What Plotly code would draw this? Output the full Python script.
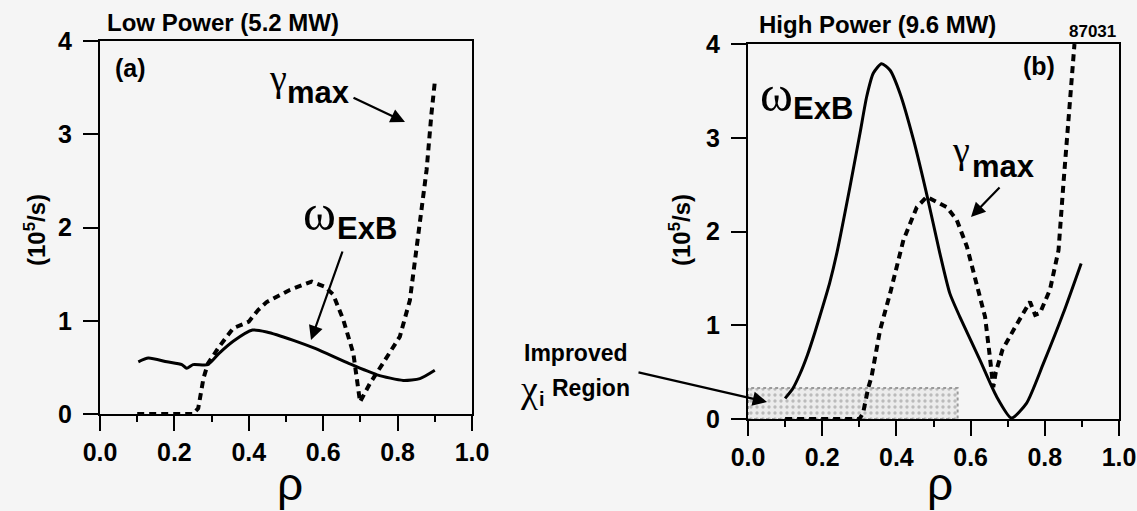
import plotly.graph_objects as go

# ---------------- data ----------------
# Panel (a): Low Power (5.2 MW)
rho_wexb_a = [0.103, 0.13, 0.18, 0.22, 0.233, 0.25, 0.29, 0.32, 0.358, 0.41, 0.448,
              0.52, 0.58, 0.67, 0.745, 0.815, 0.86, 0.90]
wexb_a = [0.56, 0.60, 0.56, 0.53, 0.49, 0.53, 0.53, 0.65, 0.78, 0.90, 0.88,
          0.79, 0.70, 0.54, 0.42, 0.36, 0.38, 0.47]

rho_gmax_a = [0.10, 0.15, 0.20, 0.25, 0.264, 0.278, 0.29, 0.32, 0.358, 0.40, 0.425,
              0.448, 0.51, 0.569, 0.605, 0.627, 0.654, 0.681, 0.699, 0.726, 0.76,
              0.806, 0.833, 0.851, 0.86, 0.878, 0.891, 0.90]
gmax_a = [0.0, 0.0, 0.0, 0.0, 0.06, 0.38, 0.54, 0.72, 0.92, 0.99, 1.115,
          1.20, 1.33, 1.42, 1.365, 1.28, 1.01, 0.65, 0.13, 0.33, 0.54,
          0.83, 1.22, 1.76, 2.04, 2.62, 3.22, 3.56]

# Panel (b): High Power (9.6 MW)
rho_wexb_b = [0.10, 0.12, 0.14, 0.16, 0.18, 0.20, 0.22, 0.24, 0.275, 0.302, 0.32,
              0.338, 0.36, 0.383, 0.41, 0.446, 0.481, 0.517, 0.544, 0.571, 0.625,
              0.67, 0.71, 0.751, 0.796, 0.85, 0.898]
wexb_b = [0.22, 0.32, 0.48, 0.68, 0.92, 1.18, 1.45, 1.78, 2.48, 3.05, 3.44,
          3.69, 3.79, 3.72, 3.47, 2.98, 2.41, 1.77, 1.34, 1.09, 0.63,
          0.24, 0.01, 0.17, 0.59, 1.13, 1.66]

rho_gmax_b = [0.10, 0.15, 0.20, 0.25, 0.30, 0.31, 0.324, 0.333, 0.347, 0.356, 0.383,
              0.419, 0.455, 0.482, 0.536, 0.563, 0.59, 0.616, 0.639, 0.652, 0.661,
              0.668, 0.686, 0.72, 0.76, 0.774, 0.787, 0.814, 0.837, 0.85, 0.865, 0.88]
gmax_b = [0.0, 0.0, 0.0, 0.0, 0.0, 0.06, 0.33, 0.45, 0.74, 0.95, 1.34,
          1.91, 2.26, 2.37, 2.26, 2.12, 1.84, 1.43, 1.09, 0.66, 0.34,
          0.50, 0.74, 0.98, 1.25, 1.11, 1.13, 1.38, 1.80, 2.50, 3.20, 4.00]

# improved chi_i region (rho extent, level)
region_rho = [0.0, 0.565]
region_level = [0.0, 0.33]

x_tickvals = [0.0, 0.2, 0.4, 0.6, 0.8, 1.0]
x_ticktext = ["0.0", "0.2", "0.4", "0.6", "0.8", "1.0"]
y_tickvals = [0, 1, 2, 3, 4]

# ---------------- figure ----------------
W, H = 1137, 511
def px(x):
    return x / W
def py(y):
    return 1 - y / H

SANS = "Liberation Sans, Arial, Helvetica, sans-serif"
SERIF = "Liberation Serif, Times New Roman, serif"
BG = "#f5f5f5"

fig = go.Figure()

# improved region rectangle (panel b)
fig.add_trace(go.Scatter(
    x=[region_rho[0], region_rho[1], region_rho[1], region_rho[0], region_rho[0]],
    y=[region_level[0], region_level[0], region_level[1], region_level[1], region_level[0]],
    mode="lines", fill="toself",
    fillcolor="rgba(200,200,200,0.35)",
    fillpattern=dict(shape=".", fgcolor="#8a8a8a", bgcolor="#ececec", size=6, solidity=0.25),
    line=dict(color="#9a9a9a", width=2, dash="dot"),
    xaxis="x2", yaxis="y2", showlegend=False, hoverinfo="skip"))

dash = "7px,5px"
fig.add_trace(go.Scatter(x=rho_wexb_a, y=wexb_a, mode="lines",
                         line=dict(color="black", width=3, shape="spline", smoothing=0.6),
                         xaxis="x", yaxis="y", showlegend=False))
fig.add_trace(go.Scatter(x=rho_gmax_a, y=gmax_a, mode="lines",
                         line=dict(color="black", width=4, dash=dash),
                         xaxis="x", yaxis="y", showlegend=False))
fig.add_trace(go.Scatter(x=rho_wexb_b, y=wexb_b, mode="lines",
                         line=dict(color="black", width=3, shape="spline", smoothing=0.6),
                         xaxis="x2", yaxis="y2", showlegend=False))
fig.add_trace(go.Scatter(x=rho_gmax_b, y=gmax_b, mode="lines",
                         line=dict(color="black", width=4, dash=dash),
                         xaxis="x2", yaxis="y2", showlegend=False))

tickfont = dict(family=SANS, size=25, color="black", weight="bold")
xcommon = dict(range=[0, 1], tickmode="array", tickvals=x_tickvals, ticktext=x_ticktext,
               ticks="outside", ticklen=15, tickwidth=2, tickcolor="black",
               showline=True, linewidth=2, linecolor="black", mirror=True,
               showgrid=False, zeroline=False, tickfont=tickfont,
               minor=dict(dtick=0.1, tick0=0.1, ticks="outside", ticklen=6, tickwidth=2,
                          tickcolor="black", showgrid=False))
ycommon = dict(range=[0, 4], tickmode="array", tickvals=y_tickvals,
               ticks="outside", ticklen=15, tickwidth=2, tickcolor="black",
               showline=True, linewidth=2, linecolor="black", mirror=True,
               showgrid=False, zeroline=False, tickfont=tickfont, ticklabelstandoff=6)

fig.update_layout(
    width=W, height=H, margin=dict(l=0, r=0, t=0, b=0, autoexpand=False),
    paper_bgcolor=BG, plot_bgcolor=BG,
    xaxis=dict(domain=[px(100), px(472)], anchor="y", **xcommon),
    yaxis=dict(domain=[py(414), py(41)], anchor="x", **ycommon),
    xaxis2=dict(domain=[px(748), px(1119)], anchor="y2", **xcommon),
    yaxis2=dict(domain=[py(419), py(44)], anchor="x2", **ycommon),
)

def txt(x, y, text, size, family=SANS, weight="bold", xanchor="center", angle=0):
    fig.add_annotation(x=px(x), y=py(y), xref="paper", yref="paper", text=text,
                       showarrow=False, xanchor=xanchor, yanchor="middle", textangle=angle,
                       font=dict(family=family, size=size, color="black", weight=weight))

def arrow(x0, y0, x1, y1):
    fig.add_annotation(x=px(x1), y=py(y1), xref="paper", yref="paper", text="",
                       showarrow=True, ax=x0 - x1, ay=y0 - y1, axref="pixel", ayref="pixel",
                       arrowhead=2, arrowsize=1.3, arrowwidth=2.2, arrowcolor="black")

# titles
txt(105, 22, "Low Power (5.2 MW)", 24, xanchor="left")
txt(757, 24, "High Power (9.6 MW)", 24, xanchor="left")
txt(1092, 31, "87031", 17)
txt(130, 68, "(a)", 25)
txt(1039, 66, "(b)", 25)

# y-axis labels
txt(35, 230, "(10<sup>5</sup>/s)", 24, angle=-90)
txt(680, 230, "(10<sup>5</sup>/s)", 24, angle=-90)

# x-axis labels
txt(290, 484, "ρ", 46, weight="normal")
txt(940, 484, "ρ", 46, weight="normal")

# panel a labels
txt(278, 78, "γ", 38, family=SERIF, weight="normal")
txt(318, 92, "max", 31, xanchor="center")
arrow(352, 97, 405, 122)
txt(319, 213, "ω", 50, family=SERIF, weight="normal")
txt(367, 228, "ExB", 31)
arrow(343, 250, 311, 340)

# panel b labels
txt(776, 94, "ω", 50, family=SERIF, weight="normal")
txt(823, 108, "ExB", 31)
txt(961, 150, "γ", 38, family=SERIF, weight="normal")
txt(1003, 166, "max", 31)
arrow(1001, 186, 971, 217)

txt(576, 353, "Improved", 23)
txt(529, 389, "χ", 38, family=SERIF, weight="normal")
txt(542, 399, "i", 20)
txt(591, 388, "Region", 23)
arrow(637, 372, 767, 402)

fig.write_html("out.html", config={"displayModeBar": False},
               post_script="document.body.style.margin='0';")
